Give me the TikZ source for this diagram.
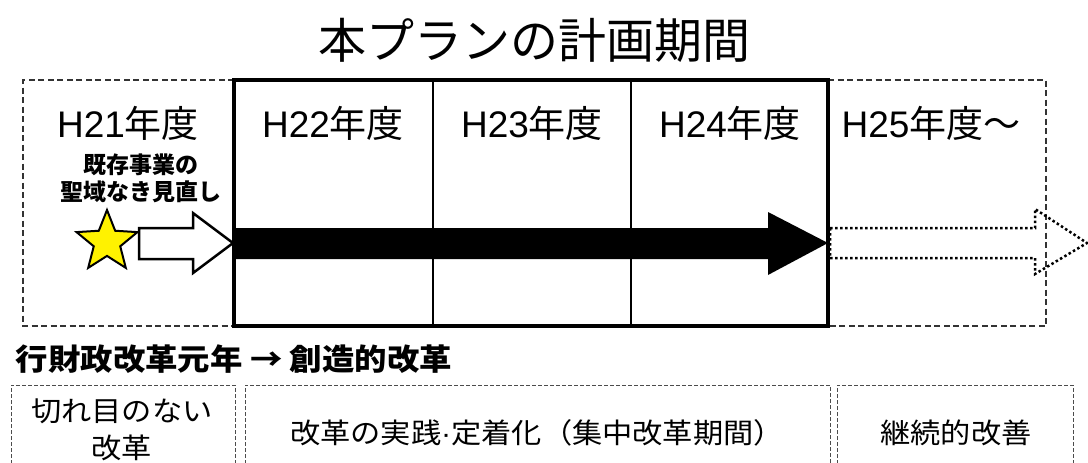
\documentclass[tikz,border=0pt]{standalone}
\usepackage{fontspec}
\setmainfont{Noto Sans CJK JP}
\newfontfamily\ar{Liberation Sans}
\usetikzlibrary{shapes.geometric}
\begin{document}
\begin{tikzpicture}[x=1pt,y=-1pt,
  dbox/.style={draw=black!80,line width=1.3pt,dash pattern=on 6pt off 3.5pt},
  lbox/.style={draw=black!70,line width=0.9pt,dash pattern=on 4pt off 2pt},
  year/.style={font=\fontsize{37}{40}\selectfont,anchor=center},
  bottomtxt/.style={font=\fontsize{28}{37}\selectfont,align=center,transform shape,xscale=1.08},
]
\useasboundingbox (0,0) rectangle (1088,463);
\clip (0,0) rectangle (1088,463);
% title
\node (title) at (534,40) {\fontsize{48}{50}\selectfont 本プランの計画期間};
% boxes
\draw[dbox] (234,80) -- (23,80) -- (23,326) -- (234,326);
\draw[dbox] (828,80) -- (1046,80) -- (1046,326) -- (828,326);
\draw[line width=1.5pt] (433,80) -- (433,326) (631,80) -- (631,326);
\draw[line width=4pt] (234,80) rectangle (828,326);
% year labels
\node[year] (y21) at (128,123) {{\ar H21}年度};
\node[year] (y22) at (333,123) {{\ar H22}年度};
\node[year] (y23) at (532,123) {{\ar H23}年度};
\node[year] (y24) at (730,123) {{\ar H24}年度};
\node[year] (y25) at (931,123) {{\ar H25}年度〜};
% note
\node[font=\fontsize{23}{27}\selectfont\bfseries,align=center] (note) at (141,178) {既存事業の\\聖域なき見直し};
% star
\node[star,star points=5,star point ratio=2.3,minimum size=64pt,inner sep=0pt,draw=black,line width=2pt,fill=yellow] (star) at (107,242) {};
% white arrow
\draw[line width=2.5pt,fill=white,line join=miter] (139,228) -- (193,228) -- (193,213) -- (233,243) -- (193,273) -- (193,259) -- (139,259) -- cycle;
% black arrow
\fill[black] (234,228) -- (768,228) -- (768,212) -- (828,243) -- (768,275) -- (768,259) -- (234,259) -- cycle;
% dotted arrow
\draw[line width=2.5pt,dash pattern=on 2.5pt off 2.5pt] (830,228) -- (1035,228) -- (1035,209) -- (1087,243) -- (1035,274) -- (1035,258) -- (830,258) -- cycle;
% subtitle
\node[anchor=west,font=\fontsize{30}{32}\selectfont\bfseries,transform shape,xscale=1.08] (sub) at (12,359) {行財政改革元年 → 創造的改革};
% bottom boxes
\draw[lbox] (11,470) -- (11,385) -- (235,385) -- (235,470);
\draw[lbox] (245,470) -- (245,385) -- (830,385) -- (830,470);
\draw[lbox] (837,470) -- (837,385) -- (1073,385) -- (1073,470);
\node[bottomtxt] (b1) at (122,430) {切れ目のない\\改革};
\node[bottomtxt] (b2) at (537,433) {改革の実践{\ar\textperiodcentered}定着化（集中改革期間）};
\node[bottomtxt] (b3) at (956,433) {継続的改善};
\end{tikzpicture}
\end{document}
